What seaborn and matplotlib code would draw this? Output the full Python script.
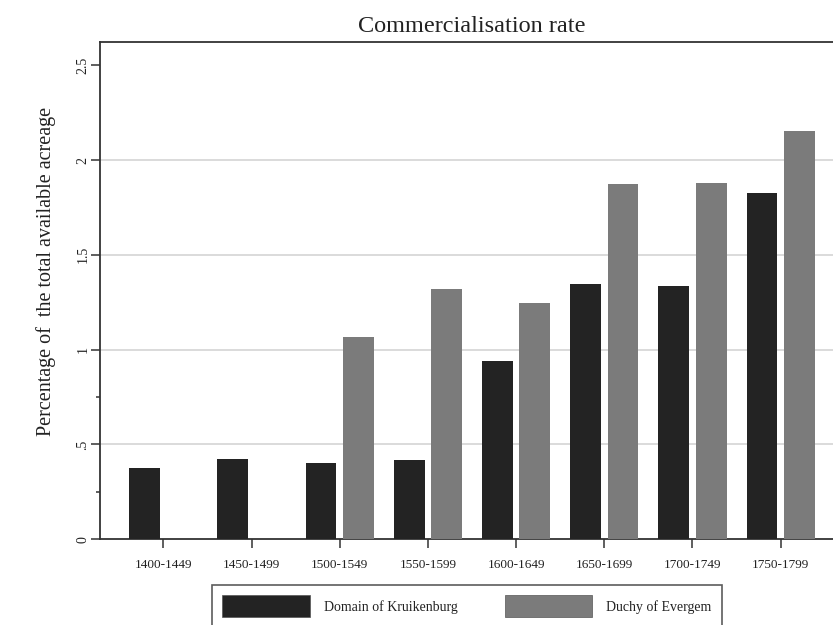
import matplotlib
matplotlib.use("Agg")
import matplotlib.pyplot as plt
from matplotlib.patches import Patch
import numpy as np
import pandas as pd
import seaborn as sns

# Half-century periods and commercialisation rates (% of total available acreage)
periods = ["1400-1449", "1450-1499", "1500-1549", "1550-1599",
           "1600-1649", "1650-1699", "1700-1749", "1750-1799"]
kruikenburg = [0.378, 0.424, 0.401, 0.418, 0.942, 1.345, 1.336, 1.828]
evergem = [None, None, 1.065, 1.319, 1.248, 1.874, 1.881, 2.155]

series_names = ["Domain of Kruikenburg", "Duchy of Evergem"]
series_colors = ["#232323", "#7b7b7b"]

y_ticks = [0, 0.5, 1, 1.5, 2, 2.5]
y_tick_labels = ["0", ".5", "1", "1.5", "2", "2.5"]
y_minor_ticks = [0.25, 0.75]

rows = []
for p, k, e in zip(periods, kruikenburg, evergem):
    rows.append({"period": p, "series": series_names[0], "rate": k})
    if e is not None:
        rows.append({"period": p, "series": series_names[1], "rate": e})
df = pd.DataFrame(rows)

sns.set_theme(style="white")
plt.rcParams["font.family"] = ["Liberation Serif", "DejaVu Serif"]
text_color = "#222222"
spine_color = "#333333"

fig = plt.figure(figsize=(8.33, 6.25), dpi=100)
ax = fig.add_axes([100 / 833, 85.7 / 625, 744 / 833, 497.6 / 625])

sns.barplot(data=df, x="period", y="rate", hue="series",
            order=periods, hue_order=series_names,
            palette=series_colors, width=0.848, gap=0.18,
            linewidth=0, errorbar=None, legend=False, ax=ax, zorder=3)

ax.set_xlim(-0.718, len(periods) - 1 + 0.718)
ax.set_ylim(0, 2.624)

# light horizontal rules at interior major ticks
for v in y_ticks[1:-1]:
    ax.axhline(v, color="#d8d8d8", linewidth=1.3, zorder=1)

ax.set_yticks(y_ticks)
ax.set_yticklabels(y_tick_labels, rotation=90, va="center",
                   fontsize=10, color=text_color)
ax.set_yticks(y_minor_ticks, minor=True)
ax.tick_params(axis="y", which="major", direction="out", length=6.5,
               width=1.1, color=spine_color, pad=1, left=True)
ax.tick_params(axis="y", which="minor", direction="out", length=3,
               width=1.1, color=spine_color, left=True)
ax.tick_params(axis="x", direction="out", length=6.5, width=1.1,
               color=spine_color, pad=8, labelsize=9.5,
               labelcolor=text_color, bottom=True)

ax.set_xlabel("")
ax.set_ylabel("")

for side in ["left", "bottom", "top"]:
    ax.spines[side].set_visible(True)
    ax.spines[side].set_color(spine_color)
    ax.spines[side].set_linewidth(1.3)
ax.spines["right"].set_visible(False)

ax.set_title("Commercialisation rate", fontsize=17.5, color=text_color, pad=7)

fig.text(46 / 833, 1 - 271 / 625, "Percentage of  the total available acreage",
         rotation=90, ha="center", va="center", fontsize=14.5, color=text_color)

handles = [Patch(facecolor=c, edgecolor="#555555", linewidth=0.5)
           for c in series_colors]
leg = fig.legend(handles, series_names, loc="upper left",
                 bbox_to_anchor=(212 / 833, 1 - 585 / 625),
                 bbox_transform=fig.transFigure, ncol=2, frameon=True,
                 fancybox=False, borderaxespad=0, borderpad=0.75,
                 handlelength=6.3, handleheight=2.0, handletextpad=1.0,
                 columnspacing=3.4, fontsize=10)
leg.get_frame().set_edgecolor(spine_color)
leg.get_frame().set_linewidth(1.2)
for t in leg.get_texts():
    t.set_color(text_color)

fig.savefig("out.png", dpi=100, facecolor="white")
